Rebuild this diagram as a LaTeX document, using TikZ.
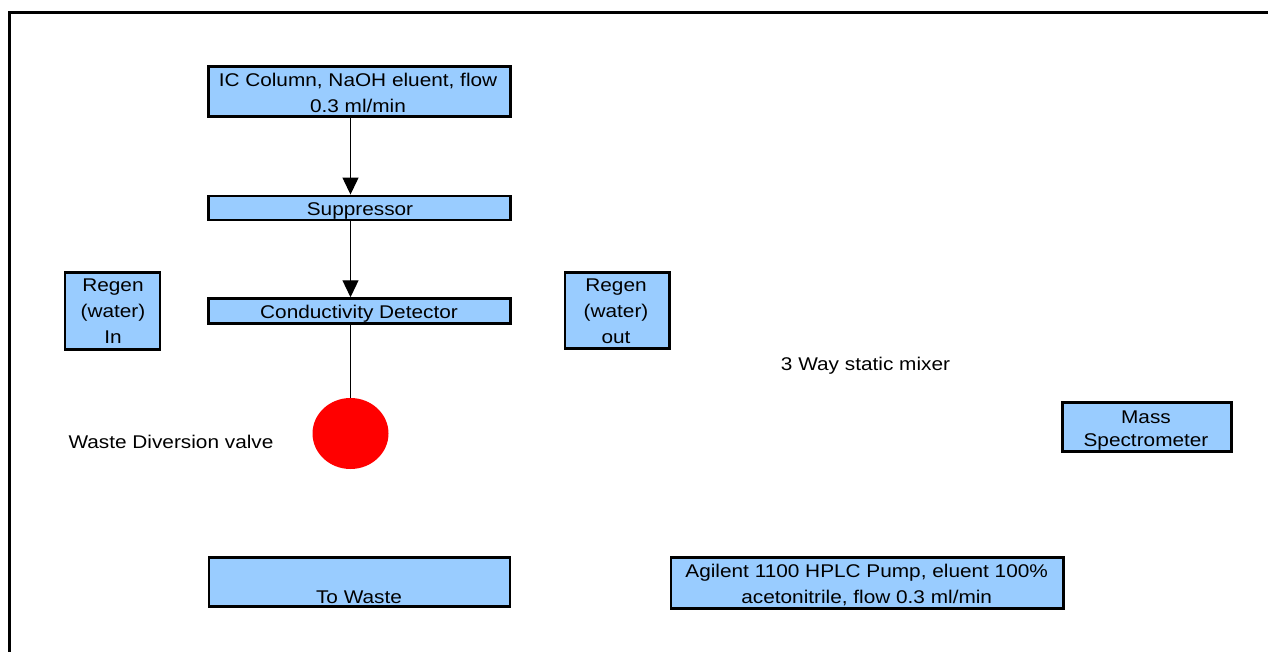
\documentclass[tikz,border=0pt]{standalone}
\usepackage{fontspec}
\setmainfont{Liberation Sans}[FakeStretch=1.13]
\usetikzlibrary{arrows.meta,shapes.geometric}
\definecolor{boxblue}{HTML}{99CCFF}
\begin{document}
\begin{tikzpicture}[x=1pt,y=-1pt,
  box/.style={draw=black, line width=2.5pt, fill=boxblue, inner sep=0pt, anchor=north west},
  txt/.style={font=\fontsize{18.4}{26}\selectfont, inner sep=0pt, align=center, anchor=base},
  flow/.style={line width=1.3pt, -{Triangle[width=16pt,length=17pt]}},
  pipe/.style={line width=1.3pt}]
\useasboundingbox (0,0) rectangle (1268,652);
\coordinate (fl) at (9.5,652);
\coordinate (fc) at (9.5,12.5);
\coordinate (fr) at (1268,12.5);
\draw[line width=3pt] (fl) -- (fc) -- (fr);

% boxes
\node[box, minimum width=302.2, minimum height=50.2] (ic) at (207.25,65.25) {};
\node[box, minimum width=302.2, minimum height=24.2] (sup) at (207.25,194.55) {};
\node[box, minimum width=302.2, minimum height=24.8] (cond) at (207.25,297.25) {};
\node[box, minimum width=94.8, minimum height=76.8] (rin) at (63.95,271.25) {};
\node[box, minimum width=104.1, minimum height=75.8] (rout) at (563.95,271.25) {};
\node[box, minimum width=169.2, minimum height=49.2] (ms) at (1061.25,401.25) {};
\node[box, minimum width=300.8, minimum height=49.2] (waste) at (207.95,556.25) {};
\node[box, minimum width=392.5, minimum height=50.8] (pump) at (669.55,556.25) {};

% valve
\node[ellipse, fill=red, inner sep=0pt, minimum width=76, minimum height=71] (valve) at (350.5,433.5) {};

% connectors
\draw[flow] (ic.south -| valve.center) -- (sup.north -| valve.center);
\draw[flow] (sup.south -| valve.center) -- (cond.north -| valve.center);
\draw[pipe] (cond.south -| valve.center) -- (valve.north);

% texts (base anchor = baseline of the last line)
\node[txt] (icT) at (358,112.3) {IC Column, NaOH eluent, flow\\0.3 ml/min};
\node[txt] (supT) at (360,216) {Suppressor};
\node[txt] (condT) at (359,318.3) {Conductivity Detector};
\node[txt] (rinT) at (113,343.3) {Regen\\(water)\\In};
\node[txt] (routT) at (616,343.3) {Regen\\(water)\\out};
\node[txt] (mixT) at (865.5,370.5) {3 Way static mixer};
\node[txt] (valveT) at (171,448.3) {Waste Diversion valve};
\node[txt] (msT) at (1146,446.7) {Mass\\[-2.5pt]Spectrometer};
\node[txt] (wasteT) at (359,603.3) {To Waste};
\node[txt] (pumpT) at (866.7,603.3) {Agilent 1100 HPLC Pump, eluent 100\%\\acetonitrile, flow 0.3 ml/min};
\end{tikzpicture}
\end{document}
